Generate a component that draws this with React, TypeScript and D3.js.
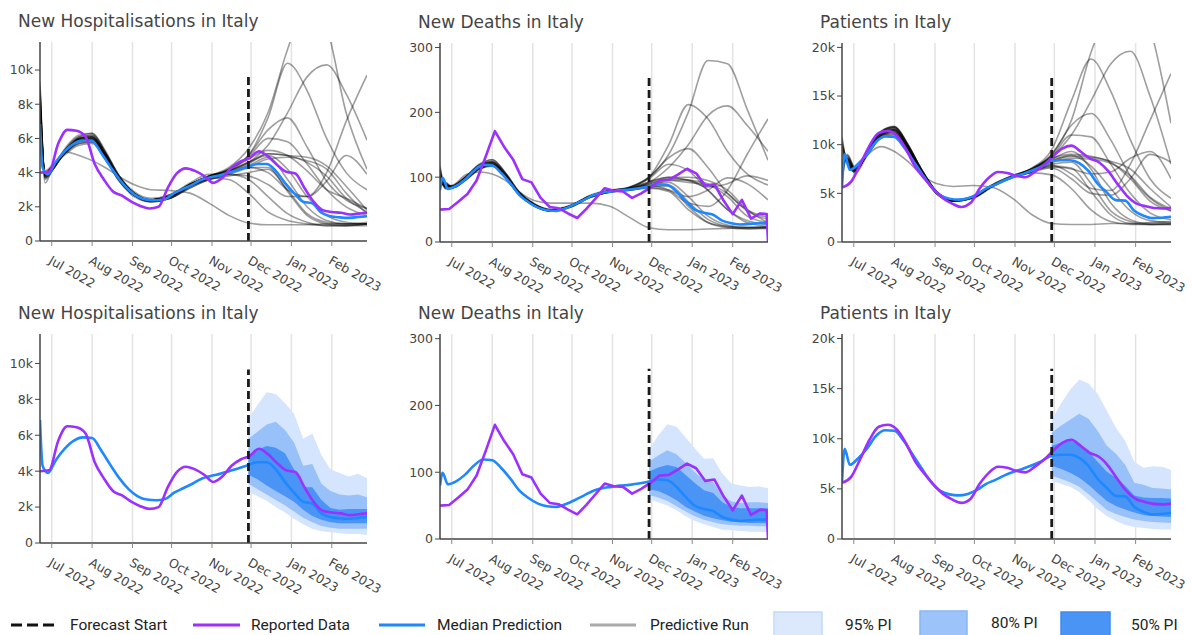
import React from 'react';
import * as d3 from 'd3';

// ---------------- dates ----------------
const X_START = '2022-06-22';
const X_END = '2023-02-28';
const FORECAST_START = '2022-11-29';

const monthTicks = ['2022-07-01', '2022-08-01', '2022-09-01', '2022-10-01', '2022-11-01', '2022-12-01', '2023-01-01', '2023-02-01'];

const reportedDates = [
  '2022-06-22', '2022-06-29', '2022-07-06', '2022-07-13', '2022-07-20', '2022-07-27', '2022-08-03', '2022-08-10',
  '2022-08-17', '2022-08-24', '2022-08-31', '2022-09-07', '2022-09-14', '2022-09-21', '2022-09-28', '2022-10-05',
  '2022-10-12', '2022-10-19', '2022-10-26', '2022-11-02', '2022-11-09', '2022-11-16', '2022-11-23', '2022-11-30',
  '2022-12-07', '2022-12-14', '2022-12-21', '2022-12-28', '2023-01-04', '2023-01-11', '2023-01-18', '2023-01-25',
  '2023-02-01', '2023-02-08', '2023-02-15', '2023-02-22', '2023-02-27', '2023-02-28',
];

const medianDates = [
  '2022-06-22', '2022-06-24', '2022-06-28', '2022-07-04', '2022-07-11', '2022-07-18', '2022-07-25', '2022-08-01',
  '2022-08-08', '2022-08-15', '2022-08-22', '2022-08-29', '2022-09-05', '2022-09-12', '2022-09-19', '2022-09-26',
  '2022-10-03', '2022-10-10', '2022-10-17', '2022-10-24', '2022-10-31', '2022-11-07', '2022-11-14', '2022-11-21',
  '2022-11-29', '2022-12-06', '2022-12-13', '2022-12-20', '2022-12-27', '2023-01-03', '2023-01-10', '2023-01-17',
  '2023-01-24', '2023-01-31', '2023-02-07', '2023-02-14', '2023-02-21', '2023-02-28',
];

const forecastDates = [
  '2022-11-29', '2022-12-06', '2022-12-13', '2022-12-20', '2022-12-27', '2023-01-03', '2023-01-10', '2023-01-17',
  '2023-01-24', '2023-01-31', '2023-02-07', '2023-02-14', '2023-02-21', '2023-02-28',
];

const runDates = [
  '2022-06-22', '2022-06-26', '2022-07-02', '2022-07-12', '2022-07-22', '2022-08-01', '2022-08-11', '2022-08-21',
  '2022-09-02', '2022-09-15', '2022-09-30', '2022-10-15', '2022-10-30', '2022-11-14', '2022-11-29', '2022-12-14',
  '2022-12-29', '2023-01-13', '2023-01-28', '2023-02-12', '2023-02-28',
];

// ---------------- New Hospitalisations ----------------
const hospReported = [4000, 4050, 5700, 6500, 6450, 6100, 4500, 3600, 2900, 2650, 2300, 2050, 1900, 2000, 3100, 3950,
  4250, 4100, 3800, 3400, 3700, 4300, 4650, 4850, 5250, 4950, 4450, 4050, 3950, 3100, 2300, 1800,
  1700, 1650, 1550, 1600, 1650, 1650];
const hospMedian = [6850, 4300, 3900, 4600, 5250, 5700, 5880, 5850, 5150, 4350, 3600, 3000, 2600, 2420, 2380, 2450,
  2800, 3050, 3300, 3580, 3730, 3850, 4000, 4150, 4350, 4500, 4500, 4100, 3400, 2800, 2300, 2200,
  1650, 1450, 1380, 1350, 1400, 1450];
const hospPI95Low = [2850, 2600, 2350, 2000, 1700, 1350, 1050, 800, 650, 600, 550, 500, 500, 450];
const hospPI95High = [6900, 7700, 8400, 8300, 7800, 7200, 5800, 6100, 4900, 4100, 3900, 3700, 3850, 3600];
const hospPI80Low = [3300, 3000, 2700, 2400, 2100, 1750, 1400, 1150, 950, 850, 800, 800, 800, 800];
const hospPI80High = [5800, 6200, 6600, 6750, 6300, 5600, 4300, 4400, 3300, 2900, 2700, 2650, 2700, 2550];
const hospPI50Low = [3800, 3550, 3200, 2900, 2600, 2300, 1850, 1500, 1300, 1150, 1100, 1100, 1100, 1100];
const hospPI50High = [4900, 5200, 5400, 5300, 5000, 4100, 3100, 3100, 2400, 1950, 1850, 1900, 1900, 1900];
const hospRuns = [
  [9300, 3700, 4200, 5300, 6000, 6200, 5200, 3900, 2800, 2400, 2600, 3300, 3800, 4100, 4600, 5000, 4200, 2600, 1500, 1100, 1000],
  [8200, 3900, 4400, 5400, 5900, 6000, 5000, 3700, 2700, 2400, 2600, 3200, 3700, 4000, 4400, 4900, 3600, 2000, 1200, 1000, 1000],
  [7500, 4100, 4500, 5200, 5700, 5800, 4900, 3600, 2700, 2300, 2500, 3200, 3600, 3900, 4300, 4800, 4900, 4700, 4200, 2800, 1600],
  [9000, 3600, 4200, 5400, 6100, 6300, 5300, 3900, 2900, 2500, 2700, 3300, 3700, 4000, 4500, 5100, 5000, 4600, 3800, 2500, 1700],
  [6900, 4000, 4400, 5100, 5600, 5700, 4800, 3600, 2600, 2300, 2500, 3100, 3600, 3800, 4000, 4200, 3000, 1600, 1100, 1000, 1000],
  [8600, 3800, 4300, 5500, 6200, 6300, 5200, 3800, 2800, 2400, 2700, 3400, 3900, 3900, 3600, 2600, 1600, 1100, 900, 900, 900],
  [7800, 3400, 4300, 5200, 5000, 4700, 4300, 3800, 3300, 3000, 2950, 2800, 2200, 1500, 1050, 950, 950, 950, 1000, 1000, 1100],
  [8000, 3800, 4300, 5300, 5900, 6000, 5000, 3700, 2700, 2400, 2600, 3200, 3700, 4200, 5000, 7200, 10400, 8800, 6000, 4000, 3000],
  [8800, 3900, 4300, 5300, 6000, 6100, 5100, 3800, 2800, 2400, 2700, 3300, 3800, 4300, 5400, 7500, 11200, 14000, 12500, 7500, 4200],
  [8400, 3700, 4200, 5300, 6000, 6100, 5100, 3800, 2800, 2400, 2600, 3300, 3800, 4100, 4600, 5600, 7500, 9600, 10300, 8600, 5900],
  [8100, 3800, 4300, 5300, 5900, 6000, 5000, 3700, 2700, 2400, 2600, 3200, 3700, 4000, 4300, 4000, 3000, 2600, 4000, 7000, 9700],
  [7900, 3900, 4300, 5200, 5800, 5900, 5000, 3700, 2700, 2300, 2500, 3200, 3700, 4200, 5000, 6500, 7200, 5500, 3500, 2400, 1900],
  [8500, 3800, 4200, 5300, 6000, 6100, 5100, 3800, 2800, 2400, 2600, 3300, 3800, 4200, 4900, 6000, 5800, 4500, 3000, 2000, 1500],
  [7700, 4000, 4400, 5200, 5700, 5800, 4900, 3600, 2700, 2300, 2500, 3100, 3600, 3900, 3800, 3300, 2600, 2600, 3500, 5000, 3900],
  [9100, 3700, 4200, 5400, 6100, 6200, 5200, 3900, 2800, 2400, 2600, 3300, 3800, 4100, 4600, 5100, 5000, 4900, 4400, 3200, 1800],
  [7200, 4000, 4400, 5200, 5800, 5900, 5000, 3700, 2700, 2400, 2600, 3200, 3700, 4000, 4300, 4300, 2900, 1500, 1000, 900, 1000],
  [8000, 3900, 4300, 5300, 5900, 6000, 5000, 3700, 2700, 2400, 2600, 3200, 3700, 3600, 2800, 1700, 1200, 1000, 900, 900, 1000],
  [8800, 3800, 4300, 5300, 6000, 6100, 5100, 3800, 2800, 2400, 2600, 3300, 3800, 4100, 4800, 5300, 5000, 4100, 3000, 2500, 1900],
];

// ---------------- New Deaths ----------------
const deathsReported = [50, 51, 62, 74, 95, 132, 171, 147, 127, 97, 92, 68, 54, 52, 44, 37,
  51, 67, 83, 79, 78, 68, 75, 84, 95, 96, 104, 113, 106, 87, 89, 64,
  43, 65, 36, 44, 43, 0];
const deathsMedian = [80, 99, 82, 86, 96, 110, 119, 118, 106, 90, 72, 61, 53, 49, 48, 52,
  58, 65, 72, 76, 78, 80, 81, 83, 86, 89, 88, 78, 63, 50, 45, 42,
  33, 29, 27, 28, 29, 29];
const deathsPI95Low = [60, 55, 50, 43, 34, 27, 22, 18, 14, 13, 12, 11, 11, 10];
const deathsPI95High = [134, 155, 172, 168, 152, 136, 120, 121, 98, 83, 80, 78, 79, 76];
const deathsPI80Low = [66, 62, 57, 49, 41, 34, 29, 25, 22, 21, 20, 20, 19, 19];
const deathsPI80High = [116, 125, 133, 127, 114, 100, 88, 85, 65, 56, 54, 55, 55, 54];
const deathsPI50Low = [74, 72, 66, 58, 48, 41, 35, 31, 28, 26, 25, 24, 24, 24];
const deathsPI50High = [101, 107, 111, 108, 96, 84, 73, 69, 55, 48, 46, 46, 46, 46];
const deathsRuns = [
  [115, 85, 86, 100, 118, 124, 106, 78, 59, 50, 56, 71, 79, 82, 90, 98, 96, 80, 50, 30, 24],
  [95, 90, 84, 98, 115, 120, 102, 75, 57, 48, 55, 70, 78, 81, 88, 92, 70, 40, 26, 22, 22],
  [105, 82, 86, 101, 119, 127, 107, 78, 58, 49, 56, 71, 79, 83, 92, 100, 100, 95, 80, 50, 30],
  [85, 92, 84, 96, 112, 118, 100, 74, 56, 48, 54, 69, 77, 80, 85, 86, 55, 30, 22, 20, 21],
  [100, 86, 88, 104, 108, 105, 95, 78, 64, 60, 60, 60, 55, 38, 22, 19, 19, 20, 21, 22, 24],
  [110, 84, 86, 100, 117, 122, 104, 77, 58, 49, 56, 71, 79, 85, 100, 135, 200, 280, 275, 205, 126],
  [100, 86, 86, 99, 116, 121, 103, 76, 57, 49, 55, 70, 78, 84, 100, 150, 212, 190, 140, 105, 88],
  [90, 88, 85, 98, 114, 119, 101, 75, 57, 48, 55, 70, 78, 82, 92, 115, 150, 195, 210, 180, 140],
  [105, 85, 86, 100, 117, 123, 104, 77, 58, 49, 56, 71, 79, 82, 87, 80, 60, 55, 80, 135, 190],
  [95, 88, 85, 99, 115, 120, 102, 75, 57, 48, 55, 70, 78, 84, 100, 130, 144, 115, 75, 50, 38],
  [112, 84, 86, 101, 118, 124, 105, 77, 58, 49, 56, 71, 79, 84, 98, 120, 110, 80, 50, 33, 27],
  [88, 90, 84, 97, 113, 118, 100, 74, 56, 48, 54, 69, 77, 80, 84, 80, 70, 80, 99, 90, 65],
  [118, 83, 87, 102, 120, 127, 107, 79, 59, 50, 57, 72, 80, 83, 90, 96, 95, 90, 75, 48, 35],
  [92, 89, 84, 97, 113, 118, 100, 74, 56, 48, 55, 69, 77, 81, 87, 88, 62, 35, 24, 21, 22],
  [102, 86, 86, 100, 116, 121, 103, 76, 57, 49, 55, 70, 78, 81, 86, 95, 92, 88, 70, 40, 30],
  [84, 91, 84, 96, 112, 117, 100, 74, 56, 48, 54, 69, 77, 80, 83, 78, 50, 30, 24, 23, 23],
  [108, 85, 86, 100, 118, 123, 104, 77, 58, 49, 56, 71, 79, 83, 93, 100, 95, 85, 90, 102, 95],
];

// ---------------- Patients ----------------
const patientsReported = [5600, 6200, 8000, 9900, 11200, 11400, 10900, 9500, 7700, 6500, 5400, 4500, 3950, 3600, 4000, 5500,
  6600, 7200, 7100, 6800, 6650, 7200, 7900, 8800, 9600, 9900, 9300, 8600, 8200, 7300, 6000, 4800,
  4000, 3700, 3500, 3450, 3500, 3500];
const patientsMedian = [5600, 9000, 7400, 8000, 9000, 10300, 10850, 10800, 9800, 8400, 7000, 5700, 4800, 4450, 4350, 4500,
  4900, 5500, 5900, 6350, 6700, 7000, 7350, 7750, 8300, 8400, 8400, 8100, 7300, 6000, 5100, 4300,
  4250, 3200, 2700, 2450, 2500, 2600];
const patientsPI95Low = [5800, 5500, 5200, 4700, 3900, 3000, 2300, 1800, 1400, 1200, 1100, 1000, 950, 950];
const patientsPI95High = [11900, 13500, 14900, 15900, 15500, 14500, 12800, 11100, 9800, 7700, 7100, 7250, 7200, 6900];
const patientsPI80Low = [6300, 6000, 5650, 5200, 4500, 3700, 2900, 2500, 2200, 1950, 1800, 1700, 1650, 1600];
const patientsPI80High = [10600, 11300, 11900, 12500, 12000, 10800, 9300, 8500, 7400, 5600, 5400, 5100, 5050, 4950];
const patientsPI50Low = [7300, 7000, 6600, 6100, 5400, 4600, 3800, 3300, 2950, 2650, 2400, 2300, 2250, 2200];
const patientsPI50High = [9300, 9600, 9800, 9500, 8700, 7700, 6700, 6100, 5300, 4350, 4150, 4100, 4100, 4050];
const patientsRuns = [
  [10800, 8000, 7200, 9400, 11200, 11700, 10000, 7600, 5200, 4300, 4600, 5800, 6700, 7400, 8500, 9300, 7500, 4000, 2300, 1900, 1900],
  [7000, 8800, 7500, 9200, 10900, 11300, 9600, 7300, 5000, 4200, 4600, 5800, 6700, 7300, 8200, 8600, 8500, 8100, 6800, 4600, 3400],
  [9500, 8400, 7300, 9500, 11400, 11900, 10100, 7600, 5200, 4300, 4700, 5900, 6800, 7500, 8600, 9000, 8800, 8200, 6500, 4200, 3200],
  [6200, 9000, 7600, 9100, 10700, 11000, 9500, 7200, 5000, 4200, 4500, 5700, 6600, 7200, 7800, 7600, 5200, 2800, 1900, 1800, 1800],
  [8500, 8500, 7000, 9000, 9800, 9300, 8300, 7000, 6000, 5700, 5800, 5600, 4500, 2800, 1900, 1800, 1800, 1900, 1900, 2000, 2100],
  [10200, 8200, 7300, 9400, 11200, 11600, 9900, 7500, 5100, 4300, 4600, 5800, 6700, 7600, 9000, 12500, 19500, 24000, 26000, 22000, 12200],
  [9000, 8500, 7400, 9300, 11000, 11500, 9800, 7400, 5100, 4300, 4600, 5800, 6700, 7600, 9500, 14500, 18800, 15500, 10500, 6500, 4500],
  [8000, 8600, 7400, 9200, 10900, 11300, 9600, 7300, 5000, 4200, 4600, 5800, 6700, 7500, 8800, 11000, 14500, 18300, 19600, 15000, 8000],
  [9800, 8300, 7300, 9400, 11300, 11800, 10000, 7600, 5200, 4300, 4600, 5800, 6700, 7300, 7900, 7000, 5500, 5300, 8000, 12500, 17300],
  [7500, 8700, 7500, 9200, 10800, 11200, 9600, 7300, 5000, 4200, 4600, 5800, 6700, 7500, 9000, 12000, 13200, 10500, 6800, 4500, 3200],
  [10500, 8100, 7200, 9500, 11400, 11800, 10100, 7600, 5200, 4300, 4700, 5900, 6800, 7500, 8800, 11000, 10800, 8000, 5000, 3000, 2300],
  [8800, 8500, 7400, 9300, 11000, 11500, 9800, 7400, 5100, 4300, 4600, 5800, 6700, 7200, 7600, 6500, 5000, 4800, 6500, 9000, 8200],
  [6500, 8900, 7600, 9100, 10800, 11100, 9500, 7200, 5000, 4200, 4500, 5700, 6600, 7200, 8000, 8200, 6000, 3200, 2100, 1800, 1800],
  [10000, 8200, 7300, 9500, 11300, 11800, 10000, 7600, 5200, 4300, 4700, 5900, 6800, 7500, 8400, 8800, 8700, 8300, 7500, 5500, 3600],
  [7800, 8600, 7400, 9200, 10900, 11400, 9700, 7400, 5100, 4200, 4600, 5800, 6700, 7100, 6900, 5500, 3300, 2100, 1800, 1800, 1900],
  [9200, 8400, 7300, 9300, 11100, 11600, 9900, 7500, 5100, 4300, 4600, 5800, 6700, 7400, 8300, 8900, 7800, 5500, 3200, 2200, 2000],
  [8300, 8500, 7400, 9300, 11000, 11500, 9800, 7400, 5100, 4300, 4600, 5800, 6700, 7300, 7700, 7500, 7000, 7200, 8600, 9300, 6500],
];

// ---------------- axis settings ----------------
const hospYTicks = [0, 2000, 4000, 6000, 8000, 10000];
const deathsYTicks = [0, 100, 200, 300];
const patientsYTicks = [0, 5000, 10000, 15000, 20000];
const hospYMax = 11640;
const deathsYMax = 307;
const patientsYMax = 20450;

const titles = ['New Hospitalisations in Italy', 'New Deaths in Italy', 'Patients in Italy'];

const legendLabels = ['Forecast Start', 'Reported Data', 'Median Prediction', 'Predictive Run', '95% PI', '80% PI', '50% PI'];

// ---------------- styling ----------------
const PURPLE = '#9b30ff';
const BLUE = '#1e88ff';
const BAND95 = '#d5e5fd';
const BAND80 = '#98c1fa';
const BAND50 = '#4a94f6';
const AXIS = '#444';
const GRID = '#e3e3e3';
const FONT = '"DejaVu Sans", Verdana, sans-serif';

const parse = d3.utcParse('%Y-%m-%d');
const fmtMonth = d3.utcFormat('%b %Y');
const fmtY = (v: number) => (v === 0 ? '0' : v >= 1000 ? `${v / 1000}k` : `${v}`);

type Geo = { l: number; r: number; t: number; b: number };

function Panel(props: any) {
  const { id, geo, title, yMax, yTicks, reported, median, runs, bands, reportedLinear } = props;
  const g: Geo = geo;
  const x = d3.scaleUtc().domain([parse(X_START) as Date, parse(X_END) as Date]).range([g.l, g.r]);
  const y = d3.scaleLinear().domain([0, yMax]).range([g.b, g.t]);

  const mkLine = (dates: string[], vals: number[], curve: any) =>
    d3.line<number>()
      .x((_, i) => x(parse(dates[i]) as Date))
      .y((v) => y(v))
      .curve(curve)(vals) || '';

  const mkArea = (lo: number[], hi: number[]) =>
    d3.area<number>()
      .x((_, i) => x(parse(forecastDates[i]) as Date))
      .y0((_, i) => y(lo[i]))
      .y1((_, i) => y(hi[i]))
      .curve(d3.curveLinear)(lo.map((_, i) => i)) || '';

  const fx = x(parse(FORECAST_START) as Date);
  const clipId = `clip-${id}`;

  return (
    <g>
      <defs>
        <clipPath id={clipId}>
          <rect x={g.l} y={g.t} width={g.r - g.l} height={g.b - g.t} />
        </clipPath>
      </defs>
      <text x={g.l - 22} y={g.t - 15} fontFamily={FONT} fontSize={17} fill={AXIS}>{title}</text>
      {monthTicks.map((m) => {
        const mx = x(parse(m) as Date);
        return <line key={m} x1={mx} x2={mx} y1={g.t} y2={g.b} stroke={GRID} strokeWidth={1.5} />;
      })}
      <g clipPath={`url(#${clipId})`}>
        {bands && (
          <g>
            <path d={mkArea(bands.lo95, bands.hi95)} fill={BAND95} />
            <path d={mkArea(bands.lo80, bands.hi80)} fill={BAND80} />
            <path d={mkArea(bands.lo50, bands.hi50)} fill={BAND50} />
          </g>
        )}
        {runs && runs.map((r: number[], i: number) => (
          <path key={i} d={mkLine(runDates, r, d3.curveMonotoneX)} fill="none" stroke="#000" strokeOpacity={0.38} strokeWidth={1.6} />
        ))}
        <path d={mkLine(medianDates, median, d3.curveMonotoneX)} fill="none" stroke={BLUE} strokeWidth={2.6} />
        <path d={mkLine(reportedDates, reported, reportedLinear ? d3.curveLinear : d3.curveMonotoneX)} fill="none" stroke={PURPLE} strokeWidth={2.6} strokeLinejoin="round" />
      </g>
      <line x1={fx} x2={fx} y1={g.b} y2={y(yMax * 0.83)} stroke="#1a1a1a" strokeWidth={2.8} strokeDasharray="8,4" />
      {/* axes */}
      <line x1={g.l} x2={g.l} y1={g.t} y2={g.b} stroke={AXIS} strokeWidth={1.5} />
      <line x1={g.l} x2={g.r} y1={g.b} y2={g.b} stroke={AXIS} strokeWidth={1.5} />
      {yTicks.map((v: number) => (
        <g key={v}>
          <line x1={g.l - 5} x2={g.l} y1={y(v)} y2={y(v)} stroke={AXIS} strokeWidth={1} />
          <text x={g.l - 7} y={y(v)} dy="0.35em" textAnchor="end" fontFamily={FONT} fontSize={12.5} fill={AXIS}>{fmtY(v)}</text>
        </g>
      ))}
      {monthTicks.map((m) => {
        const mx = x(parse(m) as Date);
        return (
          <g key={m}>
            <line x1={mx} x2={mx} y1={g.b} y2={g.b + 5} stroke="#888" strokeWidth={1} />
            <text transform={`translate(${mx - 4},${g.b + 22}) rotate(30)`} fontFamily={FONT} fontSize={12.5} fill={AXIS}>{fmtMonth(parse(m) as Date)}</text>
          </g>
        );
      })}
    </g>
  );
}

const layout: Geo[] = [
  { l: 40, r: 367, t: 42, b: 241 },
  { l: 440, r: 768, t: 43, b: 242 },
  { l: 842, r: 1171, t: 43, b: 242 },
  { l: 40, r: 367, t: 334, b: 543 },
  { l: 440, r: 768, t: 334, b: 539 },
  { l: 842, r: 1171, t: 334, b: 539 },
];

function Legend() {
  const ly = 625;
  const ty = 630;
  const tf = { fontFamily: 'Roboto, sans-serif', fontSize: 15.5, fill: '#222' };
  return (
    <g>
      <line x1={11} x2={54} y1={ly} y2={ly} stroke="#111" strokeWidth={3} strokeDasharray="11,5" />
      <text x={70} y={ty} {...tf}>{legendLabels[0]}</text>
      <line x1={193} x2={240} y1={ly} y2={ly} stroke={PURPLE} strokeWidth={3} />
      <text x={251} y={ty} {...tf}>{legendLabels[1]}</text>
      <line x1={379} x2={425} y1={ly} y2={ly} stroke={BLUE} strokeWidth={3} />
      <text x={437} y={ty} {...tf}>{legendLabels[2]}</text>
      <line x1={590} x2={636} y1={ly} y2={ly} stroke="#aaa" strokeWidth={3} />
      <text x={650} y={ty} {...tf}>{legendLabels[3]}</text>
      <rect x={774} y={612} width={48} height={26} fill="#dce9fd" stroke="#c2d9fb" strokeWidth={1.5} />
      <text x={845} y={ty} {...tf}>{legendLabels[4]}</text>
      <rect x={920} y={611} width={47} height={26} fill="#9cc4fb" stroke="#86b6f8" strokeWidth={1.5} />
      <text x={991} y={ty - 2} {...tf}>{legendLabels[5]}</text>
      <rect x={1061} y={612} width={49} height={26} fill="#4a94f6" stroke="#3f8bf2" strokeWidth={1.5} />
      <text x={1131} y={ty} {...tf}>{legendLabels[6]}</text>
    </g>
  );
}

export default function App() {
  const panels = [
    { title: titles[0], yMax: hospYMax, yTicks: hospYTicks, reported: hospReported, median: hospMedian, runs: hospRuns,
      bands: { lo95: hospPI95Low, hi95: hospPI95High, lo80: hospPI80Low, hi80: hospPI80High, lo50: hospPI50Low, hi50: hospPI50High }, linear: false },
    { title: titles[1], yMax: deathsYMax, yTicks: deathsYTicks, reported: deathsReported, median: deathsMedian, runs: deathsRuns,
      bands: { lo95: deathsPI95Low, hi95: deathsPI95High, lo80: deathsPI80Low, hi80: deathsPI80High, lo50: deathsPI50Low, hi50: deathsPI50High }, linear: true },
    { title: titles[2], yMax: patientsYMax, yTicks: patientsYTicks, reported: patientsReported, median: patientsMedian, runs: patientsRuns,
      bands: { lo95: patientsPI95Low, hi95: patientsPI95High, lo80: patientsPI80Low, hi80: patientsPI80High, lo50: patientsPI50Low, hi50: patientsPI50High }, linear: false },
  ];
  return (
    <svg width={1192} height={635} style={{ position: 'absolute', left: 0, top: 0, background: '#fff' }}>
      <rect width={1192} height={635} fill="#fff" />
      {panels.map((p, i) => (
        <Panel key={`top${i}`} id={`top${i}`} geo={layout[i]} title={p.title} yMax={p.yMax} yTicks={p.yTicks}
          reported={p.reported} median={p.median} runs={p.runs} reportedLinear={p.linear} />
      ))}
      {panels.map((p, i) => (
        <Panel key={`bot${i}`} id={`bot${i}`} geo={layout[i + 3]} title={p.title} yMax={p.yMax} yTicks={p.yTicks}
          reported={p.reported} median={p.median} bands={p.bands} reportedLinear={p.linear} />
      ))}
      <Legend />
    </svg>
  );
}
